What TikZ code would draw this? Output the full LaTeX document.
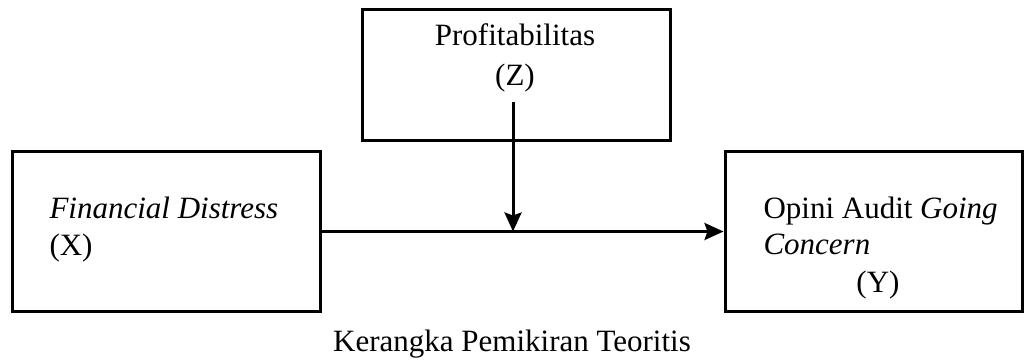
\documentclass[tikz,border=0pt]{standalone}
\usepackage{fontspec}
\setmainfont{Liberation Serif}
\usetikzlibrary{arrows.meta}

\begin{document}
\begin{tikzpicture}[x=0.5pt, y=-0.5pt, every node/.style={font=\fontsize{15.5}{18.5}\selectfont, inner sep=0pt}, every path/.style={line width=1.5pt}, varbox/.style={draw, minimum width=154pt, minimum height=80pt}, arr/.style={-{Stealth[length=9.5pt, width=8.5pt, inset=1.5pt]}}]
			\useasboundingbox (0,0) rectangle (1024,361);
			\node[varbox, minimum height=65.5pt] (zbox) at (516,74.5) {};
			\node[varbox] (xbox) at (166,231.5) {};
			\node[varbox, minimum width=148.5pt] (ybox) at (873.5,231.5) {};
			\node[anchor=base] (z1) at (515,45) {Profitabilitas};
			\node[anchor=base] (z2) at (515,85) {(Z)};
			\node[anchor=base west] (x1) at (48,218) {\textit{Financial Distress}};
			\node[anchor=base west] (x2) at (48,255) {(X)};
			\node[anchor=base west] (y1) at (762,218) {Opini Audit \textit{Going}};
			\node[anchor=base west] (y2) at (762,254) {\textit{Concern}};
			\node[anchor=base] (y3) at (878,292) {(Y)};
			\node[anchor=base] (cap) at (512,351) {Kerangka Pemikiran Teoritis};
			\coordinate (zs) at (513,102);
			\draw[arr] (xbox) -- (ybox);
			\draw[arr] (zs) -- (zs |- xbox.east);
		\end{tikzpicture}
\end{document}
